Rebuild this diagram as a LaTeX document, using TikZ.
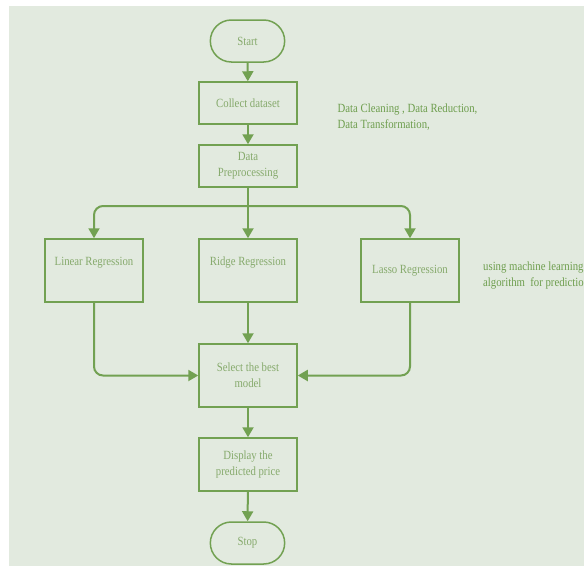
\documentclass[tikz,border=0pt]{standalone}
\usepackage{fontspec}
\setmainfont{Liberation Serif}[FakeStretch=0.86]
\usetikzlibrary{arrows.meta,shapes.misc}
\definecolor{bg}{HTML}{E2EADF}
\definecolor{ln}{HTML}{72A152}
\definecolor{tx}{HTML}{86AA6C}
\definecolor{nt}{HTML}{6E9E4E}
\begin{document}
\begin{tikzpicture}[x=1pt,y=-1pt,
  font=\fontsize{12.5}{16}\selectfont,
  box/.style={draw=ln,line width=1.5pt,rectangle,minimum width=98pt,text=tx,align=center,inner sep=1pt},
  term/.style={draw=ln,line width=1.5pt,rounded rectangle,minimum width=81pt,minimum height=42pt,text=tx},
  arr/.style={draw=ln,line width=2pt,-{Triangle[length=10pt,width=11pt]}},
  note/.style={text=nt,align=left,anchor=north west,inner sep=0pt}]
\useasboundingbox (0,0) rectangle (584,566);
\fill[white] (0,0) rectangle (584,566);
\fill[bg] (9,6) rectangle (584,566);

\node[term] (start) at (247.5,41) {Start};
\node[box,minimum height=42pt] (collect) at (248,103) {Collect dataset};
\node[box,minimum height=42pt] (prep) at (248,166) {Data\\Preprocessing};
\node[box,minimum height=63pt] (linear) at (94,270.5) {Linear Regression\\[2pt]~};
\node[box,minimum height=63pt] (ridge) at (248,270.5) {Ridge Regression\\[2pt]~};
\node[box,minimum height=63pt] (lasso) at (410,270.5) {Lasso Regression};
\node[box,minimum height=63pt] (select) at (248,375.5) {Select the best\\model};
\node[box,minimum height=53pt] (display) at (248,464.5) {Display the\\predicted price};
\node[term] (stop) at (247.5,543) {Stop};

\node[note] (n1) at (337.5,104) {Data Cleaning , Data Reduction,\\Data Transformation,};
\node[note] (n2) at (483,262) {using machine learning\\algorithm~ for prediction};

\coordinate (b) at (248,206);
\draw[arr] (start) -- (collect);
\draw[arr] (collect) -- (prep);
\draw[arr] (prep) -- (ridge);
\draw[arr,rounded corners=9pt] (b) -| (linear.north);
\draw[arr,rounded corners=9pt] (b) -| (lasso.north);
\draw[arr,rounded corners=9pt] (linear.south) |- (select.west);
\draw[arr,rounded corners=9pt] (lasso.south) |- (select.east);
\draw[arr] (ridge) -- (select);
\draw[arr] (select) -- (display);
\draw[arr] (display) -- (stop);
\end{tikzpicture}
\end{document}
